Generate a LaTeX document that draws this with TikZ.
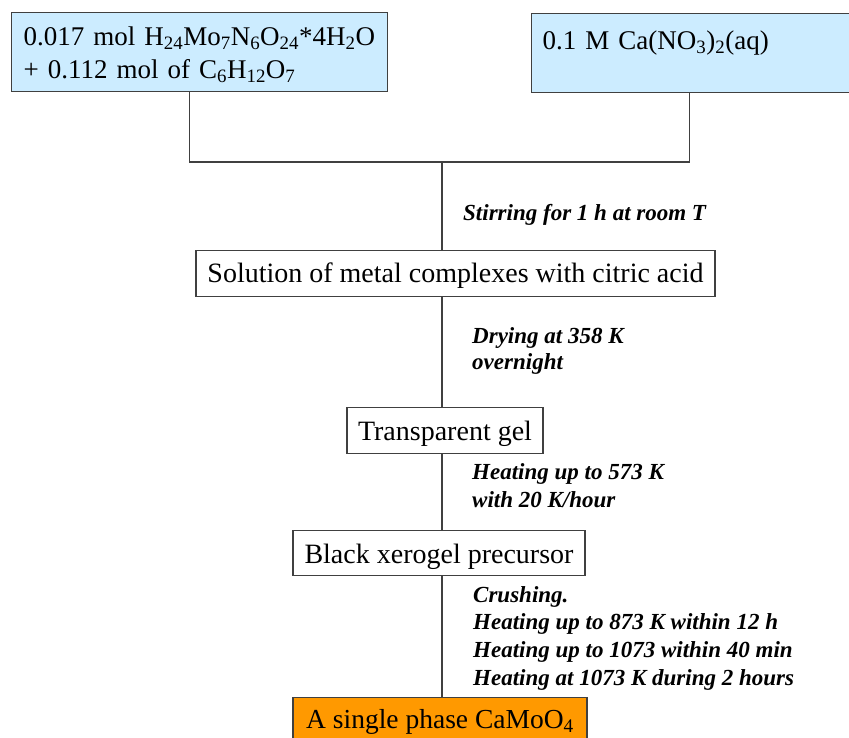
\documentclass[tikz,border=0pt]{standalone}
\usepackage{fontspec}
\setmainfont{Liberation Serif}
\definecolor{lightbluefill}{HTML}{CCECFF}
\definecolor{orangefill}{HTML}{FF9900}
\definecolor{linegray}{HTML}{404040}
\begin{document}
\begin{tikzpicture}[x=1pt,y=-1pt,
  box/.style={draw=linegray, line width=1.3pt, fill=white, inner xsep=0pt, inner ysep=0pt,
              font=\fontsize{28}{33}\selectfont},
  lab/.style={anchor=base west, inner sep=0pt, align=left,
              font=\fontsize{23}{27.6}\selectfont\bfseries\itshape},
  conn/.style={draw=linegray, line width=1.3pt}]
\path[use as bounding box] (0,0) rectangle (849,738);
\clip (0,0) rectangle (849,738);
\fill[white] (0,0) rectangle (849,738);

% top boxes
\node[box, fill=lightbluefill, anchor=north west, text width=352pt, inner xsep=12pt,
      align=left, text height=33pt, text depth=46pt, font=\fontsize{27}{33}\selectfont] (b1) at (11,12)
  {\mbox{0.017 mol H\textsubscript{24}Mo\textsubscript{7}N\textsubscript{6}O\textsubscript{24}*4H\textsubscript{2}O}\\
   + 0.112 mol of C\textsubscript{6}H\textsubscript{12}O\textsubscript{7}};
\node[box, fill=lightbluefill, anchor=north west, text width=318pt, inner xsep=11pt,
      align=left, text height=36pt, text depth=43pt, font=\fontsize{27}{33}\selectfont] (b2) at (531,13)
  {0.1 M Ca(NO\textsubscript{3})\textsubscript{2}(aq)};

\coordinate (j) at (442,162);

% process boxes
\node[box, anchor=north, minimum width=519pt, text height=32pt, text depth=14pt] (b3) at (455.5,250)
  {Solution of metal complexes with citric acid};
\node[box, anchor=north, minimum width=196pt, text height=33pt, text depth=13pt] (b4) at (445,407)
  {Transparent gel};
\node[box, anchor=north, minimum width=292pt, text height=33pt, text depth=12pt] (b5) at (439,530)
  {Black xerogel precursor};
\node[box, fill=orangefill, anchor=north, minimum width=294pt, text height=31pt, text depth=16pt,
      font=\fontsize{27.5}{33}\selectfont] (b6) at (440,697)
  {A single phase CaMoO\textsubscript{4}};

% connectors
\draw[conn] ([xshift=-10pt]b1.south) |- (j);
\draw[conn] ([xshift=-12pt]b2.south) |- (j);
\draw[conn] (j) -- (j |- b3.north);
\draw[conn] (b3.south -| j) -- (b4.north -| j);
\draw[conn] (b4.south -| j) -- (b5.north -| j);
\draw[conn] (b5.south -| j) -- (b6.north -| j);

% labels (base anchor of a multi-line node lies on its last line)
\node[lab] (l1) at (463,221) {Stirring for 1 h at room T};
\node[lab] (l2) at (472,369) {Drying at 358 K\\[-2pt]overnight};
\node[lab] (l3) at (472,507) {Heating up to 573 K\\with 20 K/hour};
\node[lab] (l4) at (473,685) {Crushing.\\Heating up to 873 K within 12 h\\Heating up to 1073 within 40 min\\Heating at 1073 K during 2 hours};
\end{tikzpicture}
\end{document}
